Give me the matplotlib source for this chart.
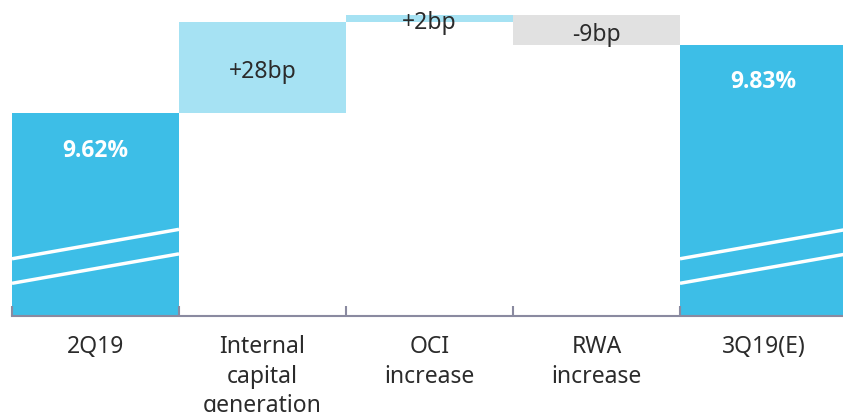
import matplotlib
matplotlib.use("Agg")
import matplotlib.pyplot as plt
import numpy as np

categories = ["2Q19", "Internal\ncapital\ngeneration", "OCI\nincrease", "RWA\nincrease", "3Q19(E)"]
start_value = 9.62
changes_bp = [28, 2, -9]
end_value = 9.83
value_labels = ["9.62%", "+28bp", "+2bp", "-9bp", "9.83%"]

plt.rcParams['font.family'] = ['Noto Sans', 'DejaVu Sans']

W, H = 843, 412
fig = plt.figure(figsize=(W / 100, H / 100), dpi=100)
ax = fig.add_axes([12 / W, 96 / H, 831 / W, 316 / H])

base = 9.0
main_blue = "#3dbee7"
light_blue = "#a6e2f3"
grey = "#e1e1e1"
text_dark = "#2b2b2b"

x = np.arange(len(categories))
width = 1.0

# totals
ax.bar(x[0], start_value - base, bottom=base, width=width, color=main_blue, align='center')
ax.bar(x[4], end_value - base, bottom=base, width=width, color=main_blue, align='center')

# waterfall steps
level = start_value
step_colors = [light_blue, light_blue, grey]
mids = []
for i, (c, col) in enumerate(zip(changes_bp, step_colors)):
    d = c / 100.0
    bottom = min(level, level + d)
    ax.bar(x[i + 1], abs(d), bottom=bottom, width=width, color=col, align='center')
    mids.append(bottom + abs(d) / 2)
    level += d

# labels
bold_family = ['Open Sans', 'DejaVu Sans']
ax.annotate(value_labels[0], (x[0], start_value), xytext=(0, -27), textcoords='offset points',
            ha='center', va='center', color='white', fontsize=16.5, fontweight='bold', family=bold_family)
ax.annotate(value_labels[4], (x[4], end_value), xytext=(0, -27), textcoords='offset points',
            ha='center', va='center', color='white', fontsize=16.5, fontweight='bold', family=bold_family)
for i, m in enumerate(mids):
    ax.annotate(value_labels[i + 1], (x[i + 1], m), xytext=(0, -3.5), textcoords='offset points',
                ha='center', va='center', color=text_dark, fontsize=16.5)

# break marks (white slanted lines) on total bars
for xi in (x[0], x[4]):
    for y0, y1 in ((9.175, 9.265), (9.10, 9.19)):
        ax.plot([xi - 0.5, xi + 0.5], [y0, y1], color='white', lw=2.5, solid_capstyle='butt', zorder=3)

ax.set_xlim(-0.5, -0.5 + 831 / 167)
ax.set_ylim(base, base + 316 / 327.0)

for s in ("top", "right", "left"):
    ax.spines[s].set_visible(False)
ax.spines["bottom"].set_color("#8a8aa0")
ax.spines["bottom"].set_linewidth(1.5)
ax.set_yticks([])
ax.set_xticks(x)
ax.set_xticklabels(categories, fontsize=16.5, color=text_dark, linespacing=1.3)
ax.tick_params(axis='x', which='major', length=0, pad=14)
ax.set_xticks(np.arange(-0.5, 4.5, 1.0), minor=True)
ax.tick_params(axis='x', which='minor', direction='in', length=7, width=1.5, color="#8a8aa0")

fig.savefig("out.png", dpi=100)
